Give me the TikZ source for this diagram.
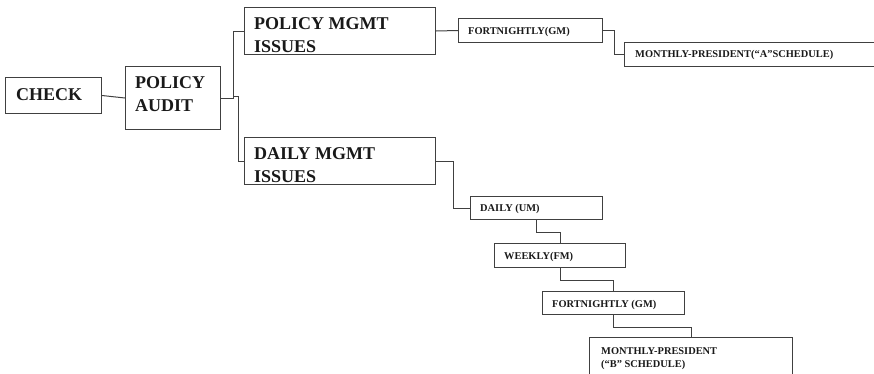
\documentclass[tikz,border=0pt]{standalone}
\usepackage{fontspec}
\setmainfont{Liberation Serif}
\begin{document}
\begin{tikzpicture}[x=1pt,y=-1pt,
  box/.style={draw=black!75, line width=1pt, inner sep=0pt, anchor=north west},
  big/.style={anchor=base west, inner sep=0pt, text=black!90, font=\fontsize{18}{23}\selectfont\bfseries, align=left},
  small/.style={anchor=base west, inner sep=0pt, text=black!90, font=\fontsize{10.4}{12.5}\selectfont\bfseries, align=left},
  link/.style={draw=black!75, line width=1pt}]
\useasboundingbox (0,0) rectangle (874,373);
\clip (0,0) rectangle (874,373);
% boxes
\node[box, minimum width=96, minimum height=36] (check) at (5,77) {};
\node[box, minimum width=95, minimum height=63] (audit) at (125,66) {};
\node[box, minimum width=191, minimum height=47] (pm) at (244,7) {};
\node[box, minimum width=191, minimum height=47] (dm) at (244,137) {};
\node[box, minimum width=144, minimum height=24] (fa) at (458,18) {};
\node[box, minimum width=262, minimum height=24] (ma) at (624,42) {};
\node[box, minimum width=132, minimum height=23] (du) at (470,196) {};
\node[box, minimum width=131, minimum height=24] (wk) at (494,243) {};
\node[box, minimum width=142, minimum height=23] (fg) at (542,291) {};
\node[box, minimum width=203, minimum height=45] (mb) at (589,337) {};
% texts (base = baseline of last line)
\node[big] (checkt) at (16,100) {CHECK};
\node[big] (auditt) at (135,111) {POLICY\\AUDIT};
\node[big] (pmt) at (254,52) {POLICY MGMT\\ISSUES};
\node[big] (dmt) at (254,182) {DAILY MGMT\\ISSUES};
\node[small] (fat) at (468,34) {FORTNIGHTLY(GM)};
\node[small] (mat) at (635,57) {MONTHLY-PRESIDENT(“A”SCHEDULE)};
\node[small] (dut) at (480,211) {DAILY (UM)};
\node[small] (wkt) at (504,259) {WEEKLY(FM)};
\node[small] (fgt) at (552,307) {FORTNIGHTLY (GM)};
\node[small] (mbt) at (601,367) {MONTHLY-PRESIDENT\\(“B” SCHEDULE)};
% connectors
\draw[link] (check.east) -- (audit.west);
\draw[link] (audit.east) -- ++(12,0) |- (pm.west);
\draw[link] ([yshift=2pt]audit.east) ++(12,0) -- ++(5,0) |- (dm.west);
\draw[link] (pm.east) -- (fa.west);
\draw[link] (fa.east) -- ++(11,0) |- (ma.west);
\draw[link] (dm.east) -- ++(17,0) |- (du.west);
\draw[link] (du.south) -- ++(0,12) -| (wk.north);
\draw[link] (wk.south) -- ++(0,12) -| (fg.north);
\draw[link] (fg.south) -- ++(0,12) -| (mb.north);
\end{tikzpicture}
\end{document}
